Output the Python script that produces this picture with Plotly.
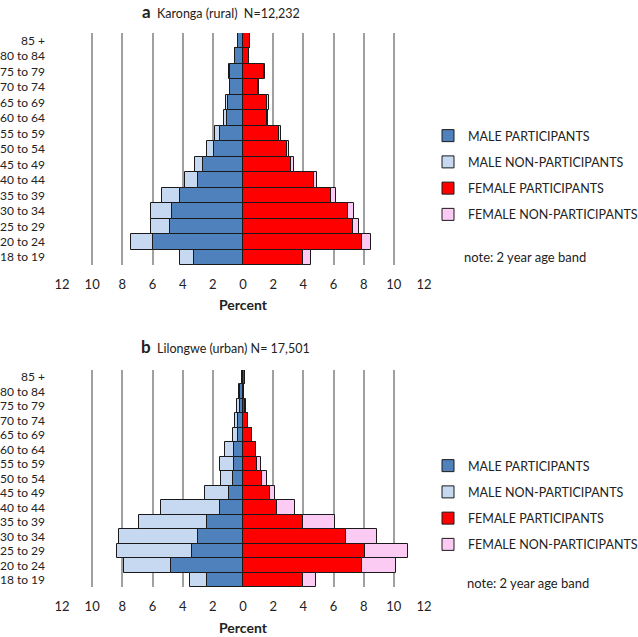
import plotly.graph_objects as go

ages = ["18 to 19", "20 to 24", "25 to 29", "30 to 34", "35 to 39", "40 to 44",
        "45 to 49", "50 to 54", "55 to 59", "60 to 64", "65 to 69", "70 to 74",
        "75 to 79", "80 to 84", "85 +"]

# Karonga (rural)
k_male_part = [3.26, 6.0, 4.81, 4.7, 4.17, 3.0, 2.66, 1.93, 1.55, 1.06, 0.98, 0.85, 0.85, 0.5, 0.3]
k_male_nonpart = [0.95, 1.4, 1.29, 1.4, 1.22, 0.86, 0.54, 0.44, 0.31, 0.18, 0.12, 0.04, 0.08, 0.03, 0.0]
k_female_part = [4.0, 7.87, 7.27, 6.96, 5.82, 4.71, 3.18, 2.89, 2.4, 1.56, 1.62, 1.0, 1.4, 0.4, 0.44]
k_female_nonpart = [0.51, 0.62, 0.42, 0.37, 0.36, 0.22, 0.2, 0.13, 0.11, 0.13, 0.09, 0.03, 0.03, 0.02, 0.0]

# Lilongwe (urban)
l_male_part = [2.4, 4.77, 3.37, 3.0, 2.37, 1.53, 0.95, 0.67, 0.6, 0.58, 0.35, 0.31, 0.22, 0.2, 0.07]
l_male_nonpart = [1.1, 3.15, 5.01, 5.25, 4.5, 3.92, 1.55, 0.79, 0.91, 0.62, 0.32, 0.22, 0.18, 0.04, 0.01]
l_female_part = [3.96, 7.89, 8.07, 6.8, 3.96, 2.27, 1.82, 1.29, 0.96, 0.84, 0.6, 0.33, 0.15, 0.09, 0.15]
l_female_nonpart = [0.88, 2.27, 2.86, 2.11, 2.17, 1.2, 0.31, 0.33, 0.26, 0.0, 0.0, 0.0, 0.03, 0.0, 0.0]

series_names = ["MALE PARTICIPANTS", "MALE NON-PARTICIPANTS",
                "FEMALE PARTICIPANTS", "FEMALE NON-PARTICIPANTS"]
colors = ["#4f81bd", "#c6d9f1", "#ff0000", "#fccbf4"]

tick_vals = [-12, -10, -8, -6, -4, -2, 0, 2, 4, 6, 8, 10, 12]
tick_text = ["12", "10", "8", "6", "4", "2", "0", "2", "4", "6", "8", "10", "12"]

FONT = "Lato, Open Sans, sans-serif"
W, H = 638, 637

fig = go.Figure()

panels = [
    ("x", "y", "legend", [k_male_part, k_male_nonpart, k_female_part, k_female_nonpart]),
    ("x2", "y2", "legend2", [l_male_part, l_male_nonpart, l_female_part, l_female_nonpart]),
]
for xa, ya, lg, data in panels:
    for i, (name, col, vals) in enumerate(zip(series_names, colors, data)):
        sign = -1 if i < 2 else 1
        fig.add_trace(go.Bar(
            y=ages, x=[sign * v for v in vals], orientation="h",
            name=name, marker=dict(color=col, line=dict(color="#1a1a1a", width=1)),
            xaxis=xa, yaxis=ya, legend=lg, legendgroup=lg + name,
            width=1.0,
        ))

def px_x(p):
    return p / W

def px_y(p):
    return 1 - p / H

xcommon = dict(range=[-12, 12], tickmode="array", tickvals=tick_vals, ticktext=tick_text,
               showgrid=True, gridcolor="#a0a0a0", gridwidth=1.5, zeroline=False,
               showline=False, ticks="", ticklabelstandoff=10,
               tickfont=dict(family=FONT, size=13, color="#222"), automargin=False)
ycommon = dict(categoryorder="array", categoryarray=ages, tickmode="array", tickvals=ages,
               showgrid=False, zeroline=False, automargin=False,
               showline=False, ticks="", ticklabelstandoff=16, range=[-0.5, 14.5],
               tickfont=dict(family=FONT, size=12, color="#222"))

legend_common = dict(xanchor="left", yanchor="top", font=dict(family=FONT, size=12.5, color="#222"),
                     tracegroupgap=7, itemwidth=30, bgcolor="rgba(0,0,0,0)")

def note(text, x, y, size=13, xanchor="left"):
    return dict(text=text, x=px_x(x), y=px_y(y), xref="paper", yref="paper",
                xanchor=xanchor, yanchor="middle", showarrow=False,
                font=dict(family=FONT, size=size, color="#222"))

fig.update_layout(
    width=W, height=H, margin=dict(l=0, r=0, t=0, b=0, autoexpand=False),
    paper_bgcolor="white", plot_bgcolor="white",
    barmode="relative", bargap=0,
    font=dict(family=FONT, size=13, color="#222"),
    xaxis=dict(domain=[px_x(62), px_x(424)], anchor="y", **xcommon),
    yaxis=dict(domain=[px_y(265), px_y(33)], anchor="x", **ycommon),
    xaxis2=dict(domain=[px_x(62), px_x(424)], anchor="y2", **xcommon),
    yaxis2=dict(domain=[px_y(587), px_y(370)], anchor="x2", **ycommon),
    legend=dict(x=px_x(428), y=px_y(121), **legend_common),
    legend2=dict(x=px_x(428), y=px_y(451), **legend_common),
    annotations=[
        note("<span style='font-size:17px'><b>a</b></span>  Karonga (rural)  N=12,232", 140, 11, size=12.5),
        note("<span style='font-size:17px'><b>b</b></span>  Lilongwe (urban) N= 17,501", 139, 346, size=12.5),
        note("<b>Percent</b>", 243, 304, size=14, xanchor="center"),
        note("<b>Percent</b>", 243, 627, size=14, xanchor="center"),
        note("note: 2 year age band", 462, 257),
        note("note: 2 year age band", 465, 583),
    ],
)

fig.write_html("out.html", config={"displayModeBar": False},
               post_script="document.body.style.margin='0';")
